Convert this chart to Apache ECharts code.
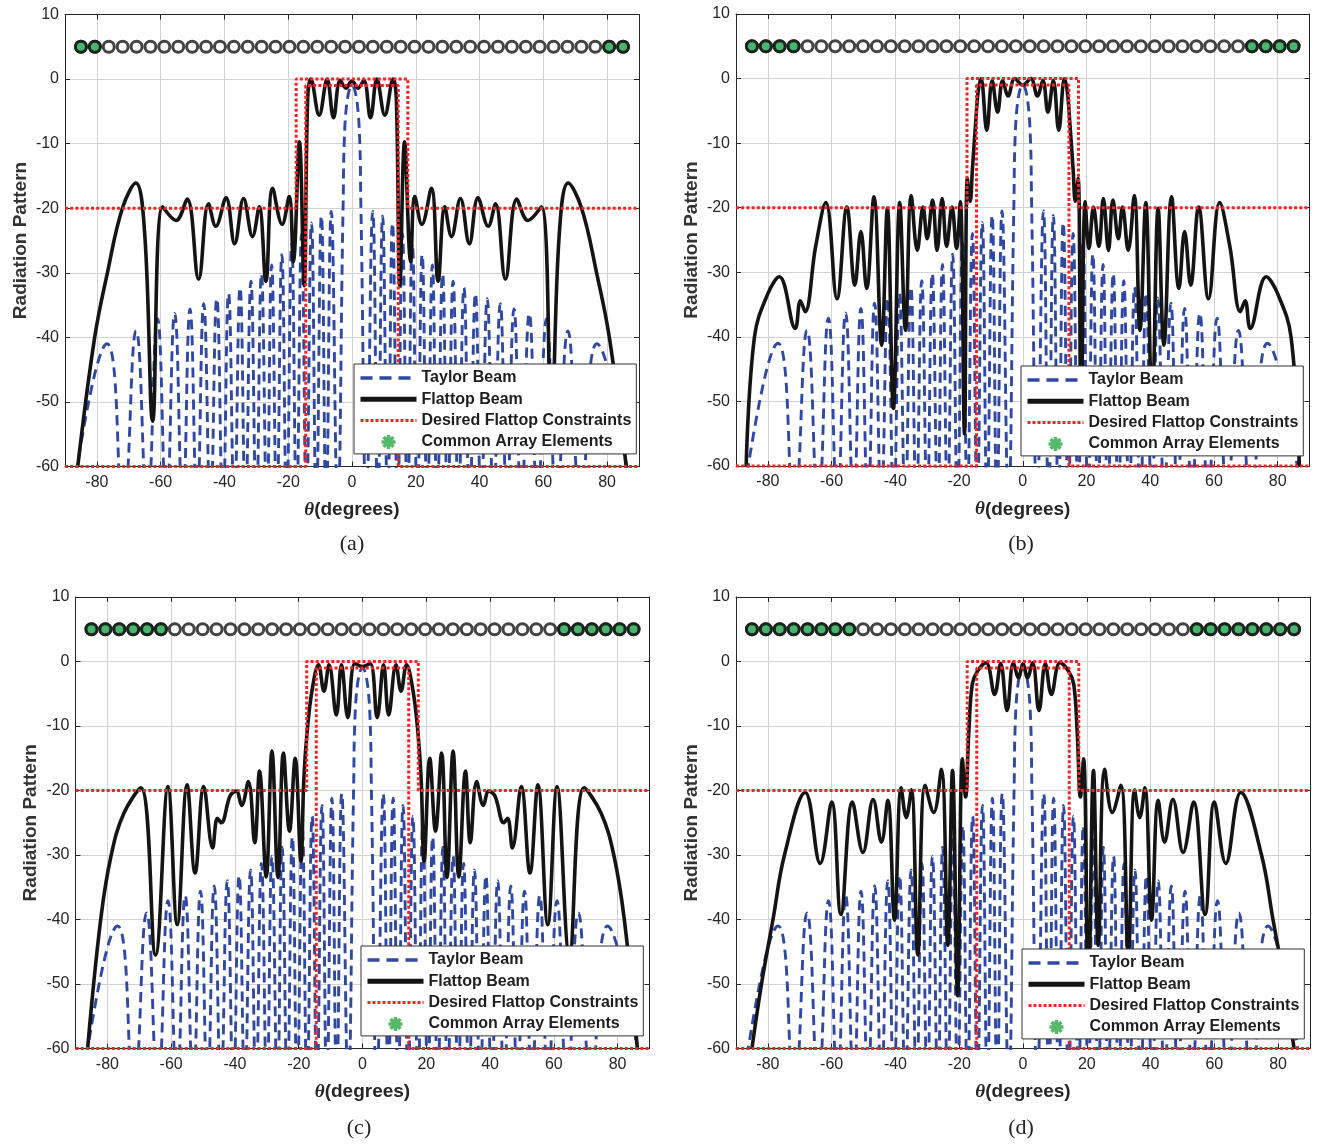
<!DOCTYPE html>
<html><head><meta charset="utf-8">
<script src="https://cdn.jsdelivr.net/npm/echarts@6/dist/echarts.min.js"></script>
<style>html,body{margin:0;padding:0;background:#fff}#c{width:1317px;height:1145px}</style>
</head><body><div id="c"></div>
<script>
// ---------------- data ----------------
const panelLabels = ['(a)', '(b)', '(c)', '(d)'];
const xTickLabels = [-80, -60, -40, -20, 0, 20, 40, 60, 80];
const yTickLabels = [-60, -50, -40, -30, -20, -10, 0, 10];

// Taylor beam (same in all panels): visible lobe points [deg, dB]
const taylorPoints = [
  [-76.8,-41],[-67.7,-39],[-61,-37.1],[-55.6,-36.3],[-50.8,-35.6],[-46.5,-34.8],[-42.4,-34],
  [-38.7,-33.2],[-35.1,-32.3],[-31.7,-31.3],[-28.4,-30.2],[-25.2,-28.8],[-22,-27.2],[-18.9,-25.5],
  [-15.8,-24],[-12.7,-22.3],[-9.6,-21.2],[-6.5,-20.5],
  [-2.8,-20],[-2.3,-8],[0,-1],[2.3,-8],[2.8,-20],
  [6.5,-20.5],[9.6,-21.2],[12.7,-22.3],[15.8,-24],[18.9,-25.5],[22,-27.2],[25.2,-28.8],
  [28.4,-30.2],[31.7,-31.3],[35.1,-32.3],[38.7,-33.2],[42.4,-34],[46.5,-34.8],[50.8,-35.6],
  [55.6,-36.3],[61,-37.1],[67.7,-39],[76.8,-41]
];
// Taylor nulls (angles); they fall below the -60 dB floor of the plot
const taylorNullAngles = [
  -88,-71.8,-64.2,-58.2,-53.1,-48.6,-44.4,-40.5,-36.9,-33.4,-30,-26.7,-23.6,-20.5,-17.4,-14.3,-11.2,-8.1,-4.5,
  4.5,8.1,11.2,14.3,17.4,20.5,23.6,26.7,30,33.4,36.9,40.5,44.4,48.6,53.1,58.2,64.2,71.8,88
];
const taylorNullDepth = -66;

const flattopA = [
  [-86,-60],[-80.7,-40],[-76.7,-30],[-72,-20],[-67.8,-16.1],[-65,-24],[-62.5,-53],[-59.4,-19.8],
  [-55.2,-21.9],[-51.7,-18.6],[-48.1,-31],[-45,-19.3],[-42.7,-22.8],[-39.5,-18.4],[-36.8,-25.5],
  [-34,-18.5],[-31.2,-24.4],[-29.1,-19.8],[-27,-31.3],[-24.9,-16.9],[-21.9,-22.5],[-19.7,-18.2],
  [-18.4,-28.3],[-16.5,-9.7],[-15,-32],[-13.9,-3],[-12.9,0],[-10.3,-5.6],[-7.8,0],[-5.8,-6],
  [-3.7,-0.2],[-1.9,-1.4],[0,-0.3],[1.9,-1.4],[3.7,-0.2],[5.8,-6],[7.8,0],[10.3,-5.6],[12.9,0],
  [13.9,-3],[15,-32],[16.5,-9.7],[18.4,-28.3],[19.7,-18.2],[21.9,-22.5],[24.9,-16.9],[27,-31.3],
  [29.1,-19.8],[31.2,-24.4],[34,-18.5],[36.8,-25.5],[39.5,-18.4],[42.7,-22.8],[45,-19.3],[48.1,-31],
  [51.7,-18.6],[55.2,-21.9],[59.4,-19.8],[62.5,-53],[65,-24],[67.8,-16.1],[72,-20],[76.7,-30],
  [80.7,-40],[86,-60]
];
const flattopB = [
  [-86.8,-60],[-84.2,-40],[-80,-33.3],[-76.4,-30.7],[-71.4,-38.7],[-69.8,-34.4],[-68.3,-36.1],
  [-65,-26],[-61.8,-19.2],[-58.3,-34.1],[-55.2,-19.9],[-52.7,-32],[-50.8,-23.7],[-49,-32.5],
  [-46.7,-18.3],[-44.3,-41.3],[-42.5,-20.1],[-40.6,-51.1],[-38.6,-19.2],[-36.8,-39],[-35,-18.1],
  [-33.1,-26.6],[-31.3,-19.9],[-30,-24.8],[-28.3,-18.8],[-26.9,-26.6],[-25.3,-18.6],[-23.9,-26],
  [-22.2,-19.9],[-20.8,-26.3],[-19.6,-19.1],[-18.3,-55],[-17.4,-15.5],[-16.5,-19],[-15.8,-14],
  [-14.8,-7],[-14,-2],[-13.1,0],[-11.3,-8],[-9.6,-0.3],[-7.9,-5.2],[-6.3,-0.3],[-4.6,-2.7],
  [-2.5,0],[0,-1],[2.5,0],[4.6,-2.7],[6.3,-0.3],[7.9,-5.2],[9.6,-0.3],[11.3,-8],[13.1,0],
  [14,-2],[14.8,-7],[15.8,-14],[16.5,-19],[17.4,-15.5],[18.3,-55],[19.6,-19.1],[20.8,-26.3],
  [22.2,-19.9],[23.9,-26],[25.3,-18.6],[26.9,-26.6],[28.3,-18.8],[30,-24.8],[31.3,-19.9],
  [33.1,-26.6],[35,-18.1],[36.8,-39],[38.6,-19.2],[40.6,-51.1],[42.5,-20.1],[44.3,-41.3],
  [46.7,-18.3],[49,-32.5],[50.8,-23.7],[52.7,-32],[55.2,-19.9],[58.3,-34.1],[61.8,-19.2],
  [65,-26],[68.3,-36.1],[69.8,-34.4],[71.4,-38.7],[76.4,-30.7],[80,-33.3],[84.2,-40],[86.8,-60]
];
const flattopC = [
  [-86.2,-60],[-82.1,-40],[-78.8,-30],[-74.8,-23.5],[-69.5,-19.6],[-64.9,-45.5],[-61,-19.4],
  [-58.1,-40.8],[-55,-19.1],[-52.5,-32.8],[-49.8,-19.4],[-47,-28.9],[-45.5,-24.3],[-44.3,-25],
  [-41.5,-20.8],[-39.6,-20.1],[-37.9,-22.3],[-35.8,-18.6],[-33.8,-28.1],[-32.3,-17],[-30.2,-33.4],
  [-28.4,-13.9],[-26.5,-33.5],[-24.8,-14.2],[-22.9,-26.3],[-21.1,-15],[-19.3,-31],[-18.4,-18.3],
  [-17.4,-11.1],[-15.8,-4.4],[-13.8,-0.5],[-12.1,-4.6],[-10.5,-0.5],[-8.2,-8.3],[-6.6,-0.5],
  [-4.6,-8.7],[-2.4,-0.3],[0,-0.8],[2.4,-0.3],[4.6,-8.7],[6.6,-0.5],[8.2,-8.3],[10.5,-0.5],
  [12.1,-4.6],[13.8,-0.5],[15.8,-4.4],[17.4,-11.1],[18.4,-18.3],[19.3,-31],[21.1,-15],
  [22.9,-26.3],[24.8,-14.2],[26.5,-33.5],[28.4,-13.9],[30.2,-33.4],[32.3,-17],[33.8,-28.1],
  [35.8,-18.6],[37.9,-22.3],[39.6,-20.1],[41.5,-20.8],[44.3,-25],[45.5,-24.3],[47,-28.9],
  [49.8,-19.4],[52.5,-32.8],[55,-19.1],[58.1,-40.8],[61,-19.4],[64.9,-45.5],[69.5,-19.6],
  [74.8,-23.5],[78.8,-30],[82.1,-40],[86.2,-60]
];
const flattopD = [
  [-85,-60],[-82,-50],[-78.4,-40],[-74.8,-30],[-68.3,-20.3],[-63.6,-31.3],[-60,-21.8],
  [-57.1,-39.2],[-53.5,-21.8],[-50.2,-29.6],[-47,-21.4],[-44.4,-28],[-42.4,-21.5],[-40.3,-40.1],
  [-38.2,-19.6],[-36.6,-24.2],[-35,-19.9],[-33,-45.5],[-30.7,-19.2],[-28,-23.4],[-25.6,-16.7],
  [-23.6,-44],[-22.1,-16.9],[-20.5,-51.8],[-19,-15.1],[-18,-21],[-17,-11],[-15.9,-3.5],
  [-14.3,-1.5],[-11.6,-0.2],[-8.9,-5.1],[-7,-0.3],[-5,-7.6],[-3,-0.2],[-1.4,-2.5],[0,-0.3],
  [1.4,-2.5],[3,-0.2],[5,-7.6],[7,-0.3],[8.9,-5.1],[11.6,-0.2],[14.3,-1.5],[15.9,-3.5],
  [17,-11],[18,-21],[19,-15.1],[20.5,-51.8],[22.1,-16.9],[23.6,-44],[25.6,-16.7],[28,-23.4],
  [30.7,-19.2],[33,-45.5],[35,-19.9],[36.6,-24.2],[38.2,-19.6],[40.3,-40.1],[42.4,-21.5],
  [44.4,-28],[47,-21.4],[50.2,-29.6],[53.5,-21.8],[57.1,-39.2],[60,-21.8],[63.6,-31.3],
  [68.3,-20.3],[74.8,-30],[78.4,-40],[82,-50],[85,-60]
];

// Desired flattop constraint masks [deg, dB]
const maskUpper = [[-90,-20],[-17.5,-20],[-17.5,0],[17.5,0],[17.5,-20],[90,-20]];
const maskLower = [[-90,-60],[-14.5,-60],[-14.5,-1],[14.5,-1],[14.5,-60],[90,-60]];

// 40 array elements drawn along the top of each panel
const elementAngles = [
  -85,-80.64,-76.28,-71.92,-67.56,-63.21,-58.85,-54.49,-50.13,-45.77,
  -41.41,-37.05,-32.69,-28.33,-23.97,-19.62,-15.26,-10.9,-6.54,-2.18,
  2.18,6.54,10.9,15.26,19.62,23.97,28.33,32.69,37.05,41.41,
  45.77,50.13,54.49,58.85,63.21,67.56,71.92,76.28,80.64,85
];
const elementLevel = 5;
const commonA = [0,1,38,39];
const commonB = [0,1,2,3,36,37,38,39];
const commonC = [0,1,2,3,4,5,34,35,36,37,38,39];
const commonD = [0,1,2,3,4,5,6,7,32,33,34,35,36,37,38,39];

const flattops = [flattopA, flattopB, flattopC, flattopD];
const commons = [commonA, commonB, commonC, commonD];

// ---------------- layout / style ----------------
const FONT = '"Liberation Sans", Arial, sans-serif';
const grids = [
  {left: 65, top: 14.5, width: 574, height: 452},
  {left: 736, top: 14, width: 573.5, height: 452},
  {left: 75.5, top: 597, width: 574, height: 451.5},
  {left: 736, top: 597, width: 574, height: 451.5}
];
const legendPos = [[354, 364], [1021, 366], [361, 946], [1022, 949]];
const captionPos = [[352, 544], [1021, 544], [359, 1128], [1021, 1128]];

const taylorData = taylorPoints.concat(taylorNullAngles.map(t => [t, taylorNullDepth]))
  .sort((p, q) => p[0] - q[0]);

const axisColor = '#262626';
const gridColor = '#d2d2d2';
const taylorColor = '#2f48a2', flatColor = '#141414', maskColor = '#f42424', commonColor = '#1aa14a';
const xAxes = [], yAxes = [], series = [], legends = [], graphics = [];
const asterisk = 'path://M-10,-2.5L10,-2.5L10,2.5L-10,2.5Z M-2.5,-10L2.5,-10L2.5,10L-2.5,10Z M-5.3,-8.84L8.84,5.3L5.3,8.84L-8.84,-5.3Z M5.3,-8.84L8.84,-5.3L-5.3,8.84L-8.84,5.3Z';

grids.forEach((g, i) => {
  xAxes.push({
    type: 'value', gridIndex: i, min: -90, max: 90, splitNumber: 9, position: 'bottom',
    axisLine: {show: true, onZero: false, lineStyle: {color: axisColor, width: 1}},
    axisTick: {show: true, inside: true, length: 5, lineStyle: {color: axisColor}},
    axisLabel: {show: true, showMinLabel: false, showMaxLabel: false, margin: 8, fontSize: 16, color: axisColor, fontFamily: FONT,
      formatter: v => (xTickLabels.indexOf(v) >= 0 ? String(v) : '')},
    splitLine: {show: true, lineStyle: {color: gridColor, width: 1}},
    name: '{i|θ}(degrees)', nameLocation: 'middle', nameGap: 34,
    nameTextStyle: {fontSize: 19, fontWeight: 'bold', color: axisColor, fontFamily: FONT,
      rich: {i: {fontStyle: 'italic', fontWeight: 'bold', fontSize: 19, fontFamily: '"Liberation Serif", serif', color: axisColor}}}
  });
  xAxes.push({
    type: 'value', gridIndex: i, min: -90, max: 90, splitNumber: 9, position: 'top',
    axisLine: {show: true, onZero: false, lineStyle: {color: axisColor, width: 1}},
    axisTick: {show: true, inside: true, length: 5, lineStyle: {color: axisColor}},
    axisLabel: {show: false}, splitLine: {show: false}
  });
  yAxes.push({
    type: 'value', gridIndex: i, min: -60, max: 10, interval: 10, position: 'left',
    axisLine: {show: true, onZero: false, lineStyle: {color: axisColor, width: 1}},
    axisTick: {show: true, inside: true, length: 5, lineStyle: {color: axisColor}},
    axisLabel: {margin: 6, fontSize: 16, color: axisColor, fontFamily: FONT,
      formatter: v => (yTickLabels.indexOf(v) >= 0 ? String(v) : '')},
    splitLine: {show: true, lineStyle: {color: gridColor, width: 1}},
    name: 'Radiation Pattern', nameLocation: 'middle', nameGap: 35, nameRotate: 90,
    nameTextStyle: {fontSize: 19, fontWeight: 'bold', color: '#333', fontFamily: FONT}
  });
  yAxes.push({
    type: 'value', gridIndex: i, min: -60, max: 10, interval: 10, position: 'right',
    axisLine: {show: true, onZero: false, lineStyle: {color: axisColor, width: 1}},
    axisTick: {show: true, inside: true, length: 5, lineStyle: {color: axisColor}},
    axisLabel: {show: false}, splitLine: {show: false}
  });
  const xi = 2 * i, yi = 2 * i;
  series.push({
    type: 'line', name: 'Taylor Beam', xAxisIndex: xi, yAxisIndex: yi, data: taylorData,
    smooth: 0.5, symbol: 'none', silent: true, itemStyle: {color: taylorColor},
    lineStyle: {color: taylorColor, width: 2.9, type: [10, 6]}
  });
  series.push({
    type: 'line', name: 'Flattop Beam', xAxisIndex: xi, yAxisIndex: yi, data: flattops[i],
    smooth: 0.4, symbol: 'none', silent: true, itemStyle: {color: flatColor},
    lineStyle: {color: flatColor, width: 3.6}
  });
  [maskUpper, maskLower].forEach(m => series.push({
    type: 'line', name: 'Desired Flattop Constraints', xAxisIndex: xi, yAxisIndex: yi, data: m,
    symbol: 'none', silent: true, clip: false, itemStyle: {color: maskColor},
    lineStyle: {color: maskColor, width: 3, type: [3, 2.2]}
  }));
  series.push({
    type: 'scatter', name: 'Array Elements', xAxisIndex: xi, yAxisIndex: yi,
    data: elementAngles.map(t => [t, elementLevel]), symbol: 'circle', symbolSize: 11, silent: true,
    itemStyle: {color: '#ffffff', borderColor: '#141414', borderWidth: 3}
  });
  series.push({
    type: 'scatter', name: 'Common Array Elements', xAxisIndex: xi, yAxisIndex: yi,
    data: commons[i].map(k => [elementAngles[k], elementLevel]), symbol: 'circle', symbolSize: 11, silent: true,
    itemStyle: {color: commonColor, borderColor: '#141414', borderWidth: 3}
  });
  legends.push({
    orient: 'vertical', left: legendPos[i][0], top: legendPos[i][1], selectedMode: false,
    itemWidth: 56, itemHeight: 14, itemGap: 5.3, padding: [6, 5, 4, 4],
    backgroundColor: '#ffffff', borderColor: '#333', borderWidth: 1, borderRadius: 0,
    textStyle: {fontSize: 16, fontWeight: 'bold', color: '#1e1e1e', fontFamily: FONT},
    data: [
      {name: 'Taylor Beam', itemStyle: {opacity: 0}, lineStyle: {width: 3.5, type: [12, 7], color: taylorColor}},
      {name: 'Flattop Beam', itemStyle: {opacity: 0}, lineStyle: {width: 5, color: flatColor}},
      {name: 'Desired Flattop Constraints', itemStyle: {opacity: 0}, lineStyle: {width: 3, type: [3, 2], color: maskColor}},
      {name: 'Common Array Elements', icon: asterisk, itemStyle: {color: '#2aa845', borderWidth: 0}}
    ]
  });
  graphics.push({
    type: 'text', x: captionPos[i][0], y: captionPos[i][1], silent: true,
    style: {text: panelLabels[i], textAlign: 'center', textVerticalAlign: 'middle',
      font: '22px "Liberation Serif", "Times New Roman", serif', fill: '#222'}
  });
});

const chart = echarts.init(document.getElementById('c'), null, {renderer: 'canvas'});
chart.setOption({
  animation: false,
  backgroundColor: '#ffffff',
  grid: grids.map(g => Object.assign({containLabel: false}, g)),
  xAxis: xAxes, yAxis: yAxes, series: series, legend: legends, graphic: graphics
});
</script></body></html>
